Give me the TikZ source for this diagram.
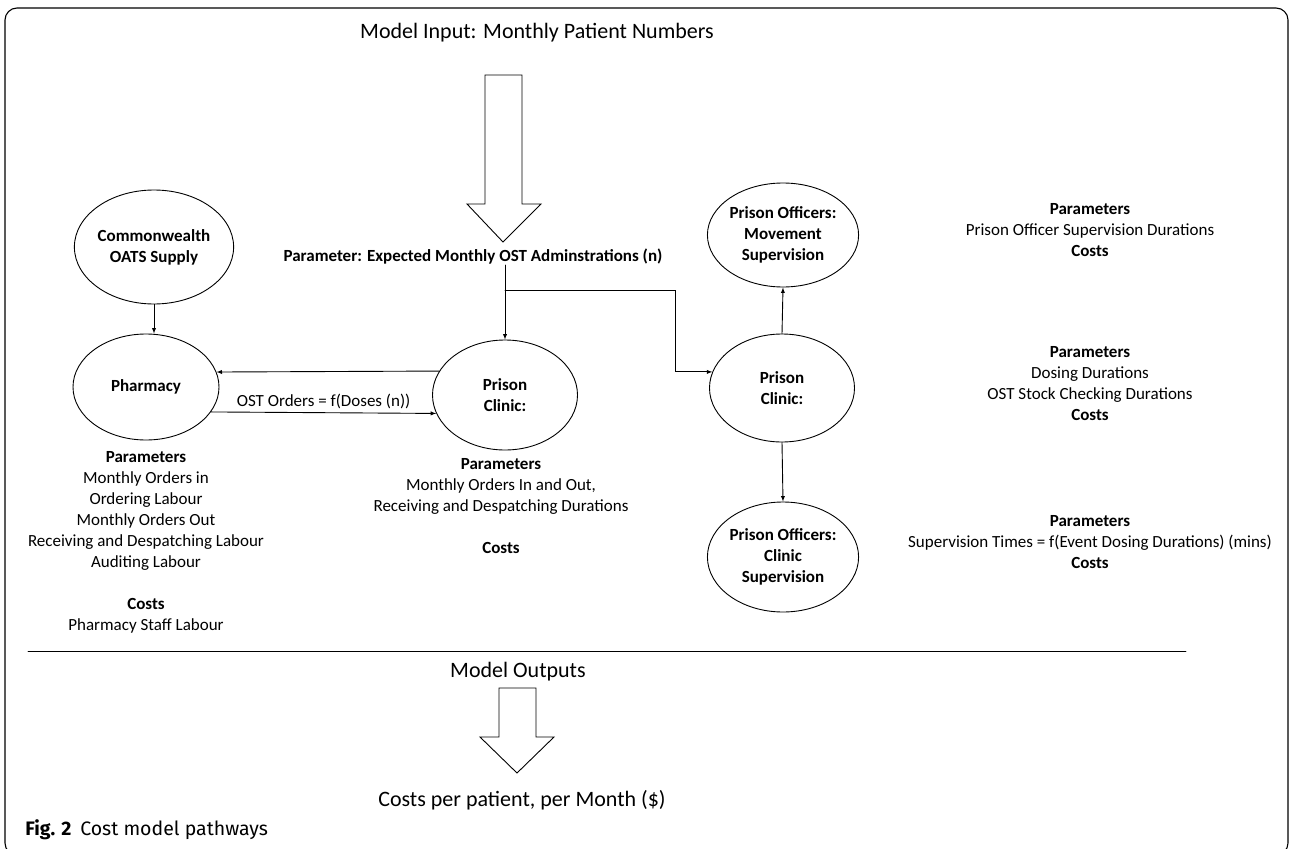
\documentclass[tikz,border=0pt]{standalone}
\usepackage{fontspec}
\setmainfont{Carlito}
\newfontfamily\capfont{Fira Sans}
\usetikzlibrary{shapes.geometric}
\begin{document}
\begin{tikzpicture}[x=1pt, y=-1pt, >=latex, line width=0.9pt, line cap=round,
  txt/.style={font=\fontsize{17}{21}\selectfont, align=center, inner sep=0pt},
  big/.style={font=\fontsize{22}{26}\selectfont, inner sep=0pt},
  blob/.style={draw, ellipse, minimum width=145pt, minimum height=110pt, inner sep=0pt,
    align=center, font=\bfseries\fontsize{17}{21}\selectfont}]
  \useasboundingbox (0,0) rectangle (1292,848);
  % frame
  \draw[line width=1.1pt, rounded corners=12pt] (5,8) rectangle (1288,855);
  % model input
  \node[big] (inp) at (537,33) {Model Input: Monthly Patient Numbers};
  \draw (485,75) -- (522,75) -- (522,204) -- (541,204) -- (503,242) -- (467,204) -- (485,204) -- cycle;
  \node[txt, font=\bfseries\fontsize{17}{21}\selectfont] (par) at (473,257) {Parameter: Expected Monthly OST Adminstrations (n)};
  % pathways
  \node[blob, minimum width=136pt, minimum height=114pt] (cw) at (154,247) {Commonwealth\\ OATS Supply};
  \node[blob, minimum width=146pt, minimum height=106pt] (ph) at (146,387) {Pharmacy};
  \node[blob] (c1) at (505,395) {Prison\\ Clinic:};
  \node[blob, minimum height=104pt] (mv) at (783,235) {Prison Officers:\\ Movement\\ Supervision};
  \node[blob, minimum height=108pt] (c2) at (782,388) {Prison\\ Clinic:};
  \node[blob] (cs) at (783,557) {Prison Officers:\\ Clinic\\ Supervision};
  \coordinate (br) at (c1.north |- 0,290);
  \coordinate (bend) at (675,290);
  \draw[->] (cw.south) -- (cw.south |- ph.north);
  \draw[->] (c1.160) -- (ph.12);
  \draw[->] (ph.-21) -- node[txt, above=3pt, font=\fontsize{17}{21}\selectfont] (ord) {OST Orders = f(Doses (n))} (c1.195);
  \draw[->] (c1.north |- par.south) -- (c1.north);
  \draw[->] (br) -- (bend) |- (c2.167);
  \draw[->] (c2.north) -- (mv.south);
  \draw[->] (c2.south) -- (cs.north);
  % parameters and costs
  \node[txt] (phpar) at (146,542) {\textbf{Parameters}\\ Monthly Orders in\\ Ordering Labour\\ Monthly Orders Out\\
    Receiving and Despatching Labour\\ Auditing Labour\\ \mbox{}\\ \textbf{Costs}\\ Pharmacy Staff Labour};
  \node[txt] (c1par) at (501,506) {\textbf{Parameters}\\ Monthly Orders In and Out,\\ Receiving and Despatching Durations\\ \mbox{}\\ \textbf{Costs}};
  \node[txt] (mvpar) at (1090,230) {\textbf{Parameters}\\ Prison Officer Supervision Durations\\ \textbf{Costs}};
  \node[txt] (c2par) at (1090,384) {\textbf{Parameters}\\ Dosing Durations\\ OST Stock Checking Durations\\ \textbf{Costs}};
  \node[txt] (cspar) at (1090,542) {\textbf{Parameters}\\ Supervision Times = f(Event Dosing Durations) (mins)\\ \textbf{Costs}};
  % model outputs
  \draw (28,651) -- (1186,651);
  \node[big] (outp) at (518,672) {Model Outputs};
  \draw (499,688) -- (536,688) -- (536,737) -- (554,737) -- (517,773) -- (480,737) -- (499,737) -- cycle;
  \node[big] (cost) at (522,800) {Costs per patient, per Month (\$)};
  % caption
  \node[anchor=west, inner sep=0pt, font=\capfont\fontsize{19.5}{23}\selectfont] (fig) at (25,830) {\textbf{Fig. 2}\hspace{0.45em}Cost model pathways};
\end{tikzpicture}
\end{document}
